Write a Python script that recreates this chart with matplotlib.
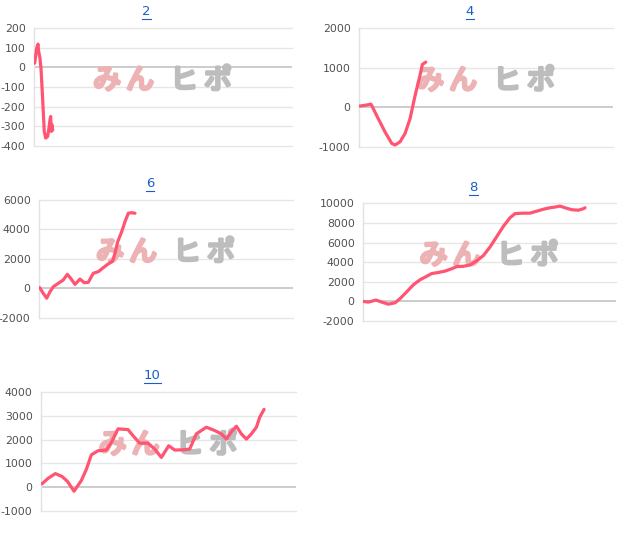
import matplotlib.pyplot as plt
from matplotlib.lines import Line2D
import matplotlib.patheffects as pe

plt.rcParams['font.family'] = ['DejaVu Sans', 'Noto Sans CJK JP']
plt.rcParams['axes.unicode_minus'] = False

# 台番号
titles = ['2', '4', '6', '8', '10']

# 差枚数の推移 (ゲーム数, 差枚)
games_2 = [22, 84, 124, 146, 186, 217, 257, 288, 319, 363, 425, 465, 496, 518, 536, 558, 580]
diff_2 = [21, 97, 118, 80, 47, -4, -123, -225, -326, -360, -351, -309, -267, -250, -326, -292, -320]

games_4 = [0, 189, 378, 608, 819, 1030, 1134, 1291, 1449, 1606, 1764, 1921, 1994, 2101]
diff_4 = [30, 50, 80, -290, -620, -910, -950, -870, -660, -290, 290, 810, 1080, 1140]

games_6 = [22, 135, 243, 346, 450, 608, 765, 891, 998, 1134, 1291, 1427, 1553, 1710, 1868,
           2025, 2164, 2321, 2394, 2479, 2605, 2709, 2813, 2920, 3024]
diff_6 = [60, -330, -660, -220, 120, 350, 580, 960, 690, 280, 640, 390, 420, 1030, 1140,
          1410, 1640, 1860, 2390, 3170, 3850, 4530, 5100, 5140, 5100]

games_8 = [11, 169, 411, 590, 801, 1012, 1170, 1381, 1592, 1802, 2013, 2171, 2382, 2593, 2804,
           2962, 3173, 3384, 3595, 3805, 4016, 4227, 4437, 4648, 4806, 5070, 5281, 5492, 5703,
           5913, 6071, 6229, 6387, 6598, 6809, 6967, 7020]
diff_8 = [0, -70, 140, -70, -280, -140, 280, 980, 1690, 2210, 2560, 2840, 2950, 3090, 3330,
          3550, 3580, 3720, 4140, 4670, 5550, 6600, 7650, 8530, 8950, 9000, 9000, 9200, 9400,
          9550, 9620, 9720, 9550, 9350, 9300, 9450, 9550]

games_10 = [31, 220, 450, 659, 826, 1035, 1265, 1422, 1579, 1788, 2050, 2207, 2416, 2729, 2886,
            3096, 3357, 3566, 3775, 4006, 4194, 4455, 4664, 4873, 5187, 5449, 5658, 5815, 5972,
            6129, 6284, 6443, 6600, 6757, 6861, 6997]
diff_10 = [140, 370, 570, 450, 250, -170, 280, 750, 1360, 1530, 1560, 1880, 2450, 2420, 2160,
           1850, 1850, 1600, 1250, 1740, 1560, 1570, 1600, 2240, 2520, 2380, 2240, 2020, 2330,
           2560, 2240, 2020, 2240, 2520, 2940, 3270]

# y軸の範囲と目盛り間隔
y_ranges = [(-400, 200, 100), (-1000, 2000, 1000), (-2000, 6000, 2000),
            (-2000, 10000, 2000), (-1000, 4000, 1000)]

series = [(games_2, diff_2), (games_4, diff_4), (games_6, diff_6),
          (games_8, diff_8), (games_10, diff_10)]

XMAX = 8000

# 各グラフの位置 (left, bottom, width, height)
positions = [
    (0.0535, 0.7261, 0.4063, 0.2214),
    (0.5654, 0.7242, 0.4000, 0.2233),
    (0.0614, 0.4034, 0.4000, 0.2214),
    (0.5717, 0.3977, 0.3984, 0.2208),
    (0.0646, 0.0413, 0.4016, 0.2233),
]

fig = plt.figure(figsize=(6.35, 5.33), dpi=100)
title_texts = []

for title, (g, d), (ymin, ymax, step), pos in zip(titles, series, y_ranges, positions):
    ax = fig.add_axes(pos)
    ax.set_xlim(0, XMAX)
    ax.set_ylim(ymin, ymax)
    ticks = list(range(ymin, ymax + 1, step))
    ax.set_yticks(ticks)
    ax.set_xticks([])
    for t in ticks:
        if t == 0:
            ax.axhline(0, color='#c4c4c4', lw=1.2, zorder=1)
        else:
            ax.axhline(t, color='#e6e6e6', lw=1.0, zorder=1, clip_on=False)
    for s in ['top', 'right', 'bottom']:
        ax.spines[s].set_visible(False)
    ax.spines['left'].set_color('#e2e2e2')
    ax.spines['left'].set_linewidth(1.0)
    ax.tick_params(axis='y', length=0, pad=6, labelsize=7.8, labelcolor='#505050')

    # ウォーターマーク
    for ch, dx, col in [('み', -56, '#ecb2b4'), ('ん', -23, '#ecb2b4'),
                        ('ヒ', 21, '#bdbdbd'), ('ポ', 55, '#bdbdbd')]:
        ax.annotate(ch, xy=(0.5, 0.555), xycoords='axes fraction', xytext=(dx, 0),
                    textcoords='offset pixels', ha='center', va='center',
                    fontsize=20, color=col, family=['Noto Sans CJK JP'], zorder=2,
                    path_effects=[pe.withStroke(linewidth=2.4, foreground=col)])

    ax.plot(g, d, color='#ff5472', lw=2.3, solid_joinstyle='round',
            solid_capstyle='round', zorder=3)

    txt = ax.annotate(title, xy=(0.437, 1.0), xycoords='axes fraction', xytext=(0, 16),
                      textcoords='offset pixels', ha='center', va='center',
                      fontsize=9.5, color='#1a5dc8')
    title_texts.append(txt)

# タイトルに下線を引く
fig.canvas.draw()
renderer = fig.canvas.get_renderer()
W, H = fig.bbox.width, fig.bbox.height
for txt in title_texts:
    bb = txt.get_window_extent(renderer)
    yline = bb.y0 - 1
    fig.add_artist(Line2D([bb.x0 / W, bb.x1 / W], [yline / H, yline / H],
                          transform=fig.transFigure, color='#1a5dc8', lw=0.8))

plt.savefig('out.png', dpi=100)
